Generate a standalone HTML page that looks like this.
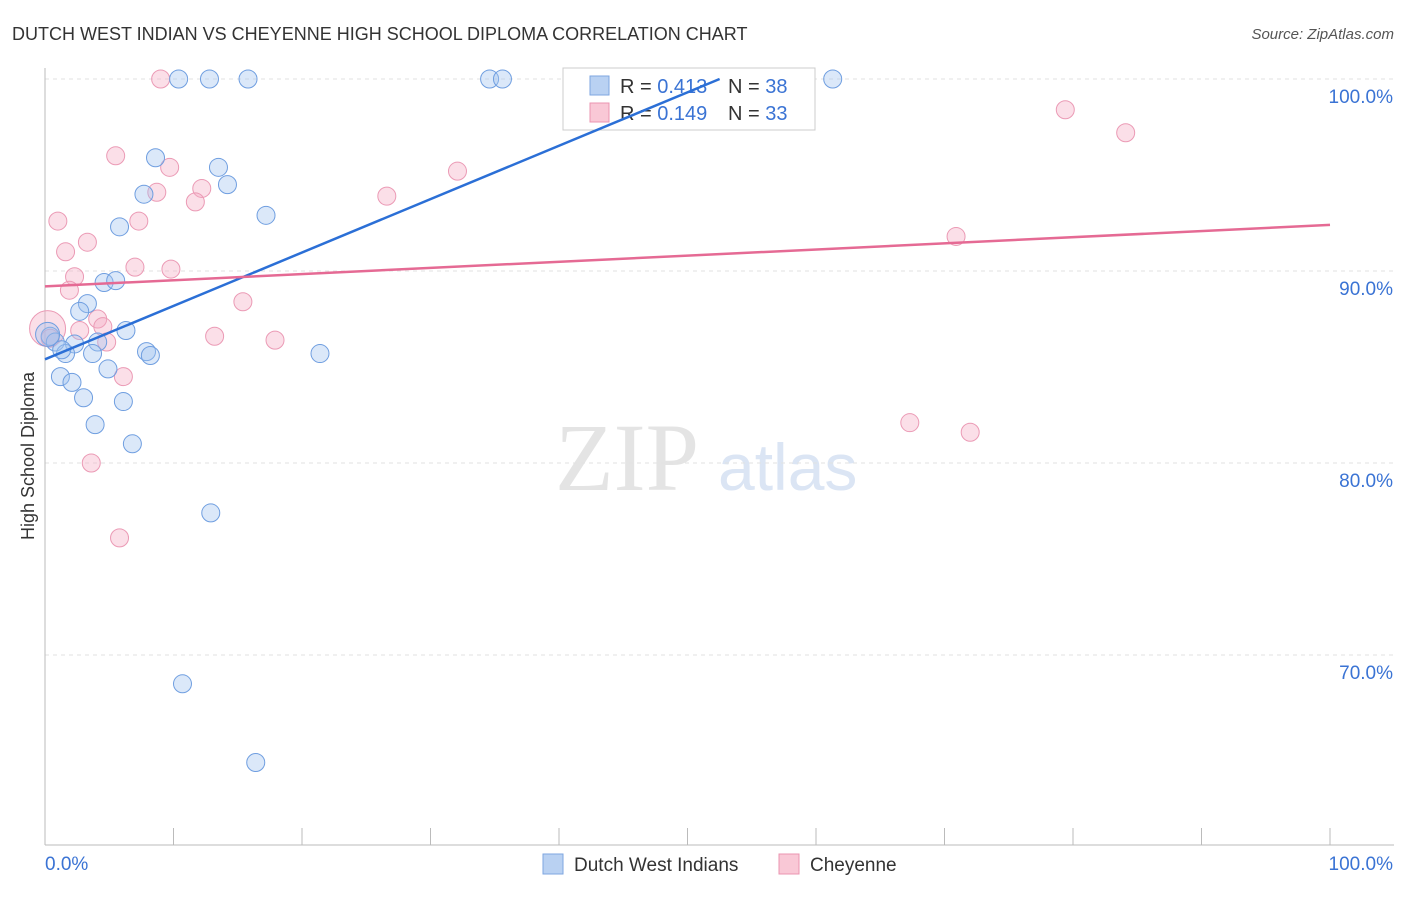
<!DOCTYPE html>
<html><head><meta charset="utf-8"><style>
body{margin:0;background:#fff;font-family:"Liberation Sans",sans-serif;}
svg text{font-family:"Liberation Sans",sans-serif;}
</style></head><body>
<svg id="c" width="1406" height="892" xmlns="http://www.w3.org/2000/svg">
<text x="12" y="40" font-size="18" fill="#333">DUTCH WEST INDIAN VS CHEYENNE HIGH SCHOOL DIPLOMA CORRELATION CHART</text>
<text x="1394" y="39" font-size="15" fill="#555" font-style="italic" text-anchor="end">Source: ZipAtlas.com</text>
<text x="34" y="456" font-size="18" fill="#333" transform="rotate(-90 34 456)" text-anchor="middle">High School Diploma</text>
<text x="555" y="490" font-size="96" fill="#e4e4e4" style="font-family:'Liberation Serif',serif">ZIP</text>
<text x="718" y="490" font-size="66" fill="#dbe5f4">atlas</text>
<g id="grid"></g><g id="pts"></g>
<g>
<rect x="563" y="68" width="252" height="62" fill="#fff" stroke="#ccc"/>
<rect x="590" y="76" width="19" height="19" fill="#b9d1f2" stroke="#7ea6e0"/>
<text x="620" y="93" font-size="20" fill="#333">R = <tspan fill="#3a73d4">0.413</tspan></text>
<text x="728" y="93" font-size="20" fill="#333">N = <tspan fill="#3a73d4">38</tspan></text>
<rect x="590" y="103" width="19" height="19" fill="#f9c8d6" stroke="#eb94b0"/>
<text x="620" y="120" font-size="20" fill="#333">R = <tspan fill="#3a73d4">0.149</tspan></text>
<text x="728" y="120" font-size="20" fill="#333">N = <tspan fill="#3a73d4">33</tspan></text>
</g>
<g id="lines"></g>
<g>
<rect x="543" y="854" width="20" height="20" fill="#b9d1f2" stroke="#7ea6e0"/>
<text x="574" y="871" font-size="19" fill="#333">Dutch West Indians</text>
<rect x="779" y="854" width="20" height="20" fill="#f9c8d6" stroke="#eb94b0"/>
<text x="810" y="871" font-size="19" fill="#333">Cheyenne</text>
</g>
</svg>
<script>
const yTicks=[100,90,80,70];
const blueX=[10.4,12.8,15.8,34.6,35.6,61.3,8.6,13.5,7.7,14.2,17.2,5.8,4.6,5.5,3.3,2.7,6.3,4.1,2.3,0.4,0.8,1.6,3.7,7.9,8.2,21.4,4.9,1.2,2.1,3.0,6.1,3.9,6.8,12.9,10.7,16.4,0.2,1.3];
const blueY=[100,100,100,100,100,100,95.9,95.4,94.0,94.5,92.9,92.3,89.4,89.5,88.3,87.9,86.9,86.3,86.2,86.6,86.3,85.7,85.7,85.8,85.6,85.7,84.9,84.5,84.2,83.4,83.2,82.0,81.0,77.4,68.5,64.4,86.7,85.9];
const pinkX=[9.0,5.5,9.7,8.7,12.2,11.7,7.3,1.0,3.3,1.6,2.3,7.0,9.8,1.9,15.4,4.1,4.5,2.7,4.8,13.2,17.9,6.1,3.6,5.8,26.6,32.1,79.4,84.1,70.9,67.3,72.0,0.2,0.4];
const pinkY=[100,96.0,95.4,94.1,94.3,93.6,92.6,92.6,91.5,91.0,89.7,90.2,90.1,89.0,88.4,87.5,87.1,86.9,86.3,86.6,86.4,84.5,80.0,76.1,93.9,95.2,98.4,97.2,91.8,82.1,81.6,87.0,86.5];
const blueLine=[0,85.4,52.5,100];
const pinkLine=[0,89.2,100,92.4];
const X=v=>45+v*12.85, Y=v=>79+(100-v)*19.2;
const NS="http://www.w3.org/2000/svg";
function mk(t,a,p){const e=document.createElementNS(NS,t);for(const k in a)e.setAttribute(k,a[k]);p.appendChild(e);return e;}
const g=document.getElementById('grid');
yTicks.forEach(t=>{
const l=mk('line',{x1:45,x2:1394,y1:Y(t),y2:Y(t),stroke:'#e2e2e2','stroke-dasharray':'4,4'},g);


const tx=mk('text',{x:1393,y:Y(t)+24,'font-size':19,fill:'#3a73d4','text-anchor':'end'},g);
tx.textContent=t.toFixed(1)+'%';


});
mk('line',{x1:45,x2:45,y1:68,y2:845,stroke:'#bbb'},g);
mk('line',{x1:45,x2:1394,y1:845,y2:845,stroke:'#bbb'},g);
for(let i=0;i<=10;i++){mk('line',{x1:X(i*10),x2:X(i*10),y1:828,y2:845,stroke:'#bbb'},g);}
const x0=mk('text',{x:45,y:870,'font-size':19,fill:'#3a73d4'},g);x0.textContent='0.0%';


const x1=mk('text',{x:1393,y:870,'font-size':19,fill:'#3a73d4','text-anchor':'end'},g);x1.textContent='100.0%';


const p=document.getElementById('pts');
pinkX.forEach((v,i)=>{const r=i===31?18:9;const c=mk('circle',{cx:X(v),cy:Y(pinkY[i]),r:r,fill:'rgba(245,170,195,0.38)',stroke:'#eb9ab5','stroke-width':1},p);

});
blueX.forEach((v,i)=>{const c=mk('circle',{cx:X(v),cy:Y(blueY[i]),r:i===36?12:9,fill:'rgba(160,195,240,0.38)',stroke:'#6f9ee0','stroke-width':1},p);

});
const L=document.getElementById('lines');
const bl=mk('line',{x1:X(blueLine[0]),y1:Y(blueLine[1]),x2:X(blueLine[2]),y2:Y(blueLine[3]),stroke:'#2b6fd6','stroke-width':2.5},L);


const pl=mk('line',{x1:X(pinkLine[0]),y1:Y(pinkLine[1]),x2:X(pinkLine[2]),y2:Y(pinkLine[3]),stroke:'#e56a94','stroke-width':2.5},L);


</script>
</body></html>
